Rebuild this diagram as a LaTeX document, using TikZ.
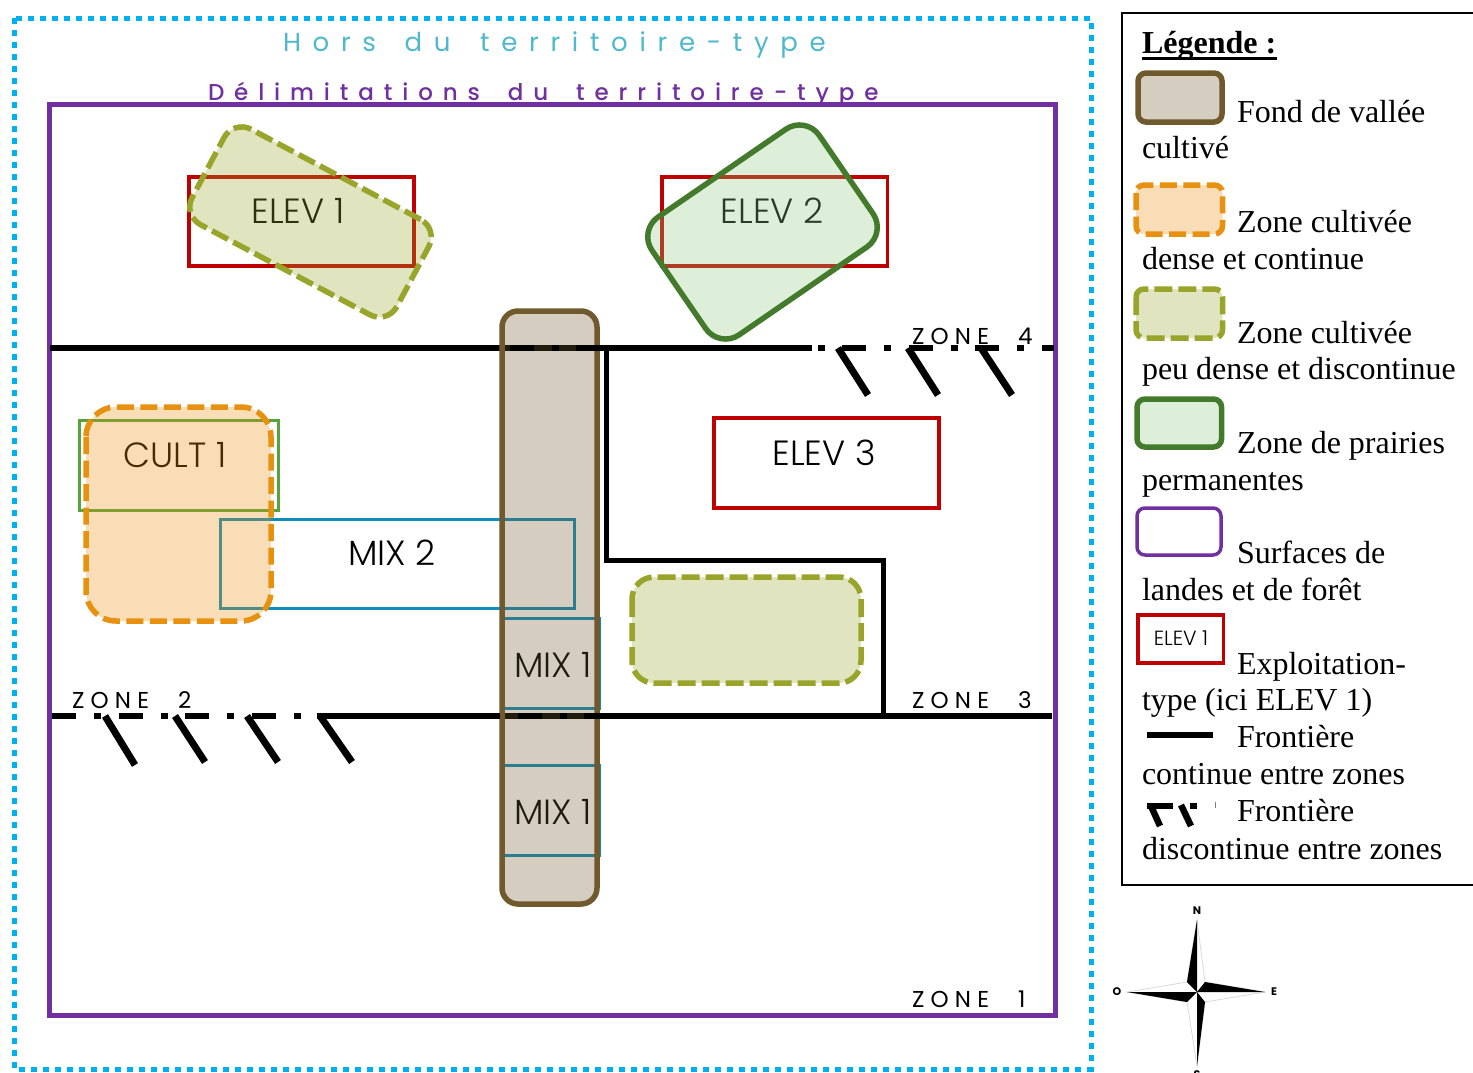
\documentclass[tikz,border=0pt]{standalone}
\usepackage{fontspec}
\setmainfont{Liberation Serif}
\newfontfamily\gothic[UprightFont={* Light},BoldFont={* Medium}]{Poppins}
\newfontfamily\gothicreg{Poppins}
\definecolor{skyc}{HTML}{00B0F0}
\definecolor{purp}{HTML}{7030A0}
\definecolor{brownc}{HTML}{705A2D}
\definecolor{orangec}{HTML}{E8900F}
\definecolor{olivec}{HTML}{98A42A}
\definecolor{greenc}{HTML}{437A2B}
\definecolor{greenfill}{HTML}{8ECA7D}
\definecolor{redc}{HTML}{C00000}
\definecolor{bluec}{HTML}{0E8DBA}
\definecolor{cultg}{HTML}{57A33E}
\definecolor{titlec}{HTML}{4DB8CE}
\tikzset{
  x=1pt,y=-1pt,
  every node/.style={inner sep=0pt,outer sep=0pt},
  valley/.style={draw=brownc,line width=5.5pt,fill=brownc,fill opacity=.3,rounded corners=16pt},
  orangezone/.style={draw=orangec,line width=5.5pt,fill=orangec,fill opacity=.3,dash pattern=on 17pt off 6.5pt},
  olivezone/.style={draw=olivec,line width=5.5pt,fill=olivec,fill opacity=.3,dash pattern=on 18pt off 6pt},
  greenzone/.style={draw=greenc,line width=5.5pt,fill=greenfill,fill opacity=.3},
  redbox/.style={draw=redc,line width=3.4pt},
  bluebox/.style={draw=bluec,line width=3pt},
  exlabel/.style={font=\gothic\fontsize{35}{38}\selectfont,anchor=center},
  zonelabel/.style={font=\gothicreg\fontsize{23}{26}\selectfont\addfontfeature{LetterSpace=27},anchor=base west},
  legtext/.style={font=\fontsize{32}{37}\selectfont,anchor=base west},
  border/.style={line width=6.5pt,black},
  borderdash/.style={line width=6.5pt,black,dash pattern=on 24pt off 18pt on 7pt off 17.5pt},
  tickmark/.style={line width=7pt,black},
  compasslabel/.style={font=\gothicreg\bfseries\fontsize{11}{12}\selectfont,anchor=center},
}
\begin{document}
\begin{tikzpicture}
\useasboundingbox (0,0) rectangle (1473,1072);
% frames
\draw[skyc,line width=5pt,dash pattern=on 6pt off 6pt] (14,18) rectangle (1091,1069);
\draw[purp,line width=5pt] (49,104) rectangle (1055,1015);
\node[font=\gothicreg\fontsize{26}{30}\selectfont\addfontfeature{LetterSpace=45},text=titlec,anchor=base west] (hors) at (283,51) {Hors\hspace{10pt} du\hspace{11pt} territoire-type};
\node[font=\gothic\bfseries\fontsize{23}{30}\selectfont\addfontfeature{LetterSpace=43},text=purp,anchor=base west] (delim) at (208,100) {Délimitations\hspace{12pt} du\hspace{12pt} territoire-type};
% borders under the zones
\coordinate (u0) at (50,348); \coordinate (u1) at (812,348); \coordinate (u2) at (1054,348);
\coordinate (l0) at (52,716); \coordinate (l1) at (317,716); \coordinate (l2) at (1052,716);
\coordinate (v0) at (606.5,348); \coordinate (v1) at (606.5,560); \coordinate (v2) at (883.5,560); \coordinate (v3) at (883.5,716);
\draw[border] (u0) -- (u1);
\draw[border] (l1) -- (l2);
\draw[line width=5pt,black] (v0) -- (v1) -- (v2) -- (v3);
% farm boxes and labels
\draw[redbox] (189,177) rectangle (414,266);
\draw[redbox] (662,177) rectangle (887.5,266);
\draw[redbox] (714,418) rectangle (939,508);
\draw[cultg,line width=3pt] (79,420) rectangle (278,510);
\draw[bluebox] (220,519) rectangle (574,608);
\draw[bluebox] (503,618) rectangle (599,708);
\draw[bluebox] (503,765) rectangle (599,855);
\node[exlabel] (elev1) at (298,211) {ELEV 1};
\node[exlabel] (elev2) at (772,211) {ELEV 2};
\node[exlabel] (elev3) at (824,453) {ELEV 3};
\node[exlabel] (cult1) at (175,455) {CULT 1};
\node[exlabel] (mix2) at (392,553) {MIX 2};
\node[exlabel] (mix1a) at (553,665) {MIX 1};
\node[exlabel] (mix1b) at (553,812) {MIX 1};
% zones
\node[olivezone,rounded corners=20pt,minimum width=232pt,minimum height=108pt,rotate=-28] (zoneA) at (310.5,222) {};
\node[greenzone,rounded corners=24pt,minimum width=203pt,minimum height=143pt,rotate=34.5] (zoneB) at (762.5,232) {};
\draw[orangezone,rounded corners=30pt] (86,407) rectangle (271,621);
\draw[olivezone,rounded corners=22pt] (632,577) rectangle (861,683);
\draw[valley] (502,311) rectangle (597,904);
% dashed parts of borders on top
\draw[borderdash,dash phase=6pt] (u0) -- (u2);
\draw[borderdash] (l0) -- (600,716);
\coordinate (t1a) at (838,348); \coordinate (t1b) at (868,395);
\coordinate (t2a) at (908,348); \coordinate (t2b) at (938,395);
\coordinate (t3a) at (981,348); \coordinate (t3b) at (1012,395);
\coordinate (t4a) at (105,716); \coordinate (t4b) at (135,765);
\coordinate (t5a) at (175,716); \coordinate (t5b) at (205,762);
\coordinate (t6a) at (247,716); \coordinate (t6b) at (278,762);
\coordinate (t7a) at (320,716); \coordinate (t7b) at (352,762);
\foreach \k in {1,...,7} {\draw[tickmark] (t\k a) -- (t\k b);}
\node[zonelabel] (z4) at (912,344) {ZONE\hspace{29pt}4};
\node[zonelabel] (z3) at (912,708) {ZONE\hspace{29pt}3};
\node[zonelabel] (z2) at (72,708) {ZONE\hspace{29pt}2};
\node[zonelabel] (z1) at (912,1007) {ZONE\hspace{29pt}1};
% legend
\coordinate (fa) at (1474,13); \coordinate (fb) at (1122,13); \coordinate (fc) at (1122,885); \coordinate (fd) at (1474,885);
\draw[black,line width=2pt] (fa) -- (fb) -- (fc) -- (fd);
\node[legtext,font=\bfseries\fontsize{32}{37}\selectfont] (lt0) at (1142,53) {Légende :};
\draw[black,line width=2.5pt] (1142,58.5) -- (1277,58.5);
\draw[valley,rounded corners=8pt] (1138,73) rectangle (1222,122);
\draw[orangezone,rounded corners=8pt] (1136,185) rectangle (1222.5,234);
\draw[olivezone,rounded corners=8pt] (1136,289) rectangle (1222.5,338);
\draw[greenzone,rounded corners=8pt] (1137,399) rectangle (1221.5,447);
\draw[purp,line width=3.5pt,rounded corners=8pt] (1137,508) rectangle (1221,555);
\draw[redbox] (1138,615) rectangle (1223.5,663);
\node[font=\gothic\fontsize{20.5}{22}\selectfont] (lelev) at (1181,638) {ELEV 1};
\node[legtext] (lt1) at (1237,122) {Fond de vallée};
\node[legtext] (lt2) at (1142,158) {cultivé};
\node[legtext] (lt3) at (1237,232) {Zone cultivée};
\node[legtext] (lt4) at (1142,269) {dense et continue};
\node[legtext] (lt5) at (1237,343) {Zone cultivée};
\node[legtext] (lt6) at (1142,379) {peu dense et discontinue};
\node[legtext] (lt7) at (1237,453) {Zone de prairies};
\node[legtext] (lt8) at (1142,490) {permanentes};
\node[legtext] (lt9) at (1237,563) {Surfaces de};
\node[legtext] (lt10) at (1142,600) {landes et de forêt};
\node[legtext] (lt11) at (1237,674) {Exploitation-};
\node[legtext] (lt12) at (1142,710) {type (ici ELEV 1)};
\node[legtext] (lt13) at (1237,747) {Frontière};
\node[legtext] (lt14) at (1142,784) {continue entre zones};
\node[legtext] (lt15) at (1237,821) {Frontière};
\node[legtext] (lt16) at (1142,859) {discontinue entre zones};
\draw[black,line width=5.5pt] (1147,735) -- (1213,735);
\draw[black,line width=6pt] (1147,806) -- (1173,806);
\draw[black,line width=6.5pt] (1151,806) -- (1160,826);
\draw[black,line width=6pt] (1190,806) -- (1197,806);
\draw[black,line width=6.5pt] (1181,805) -- (1191,826);
\draw[black!50,line width=1pt] (1215,802) -- (1215,808);
% compass
\coordinate (cc) at (1197,992);
\coordinate (cn) at (1197,920); \coordinate (ce) at (1265,992);
\coordinate (cs) at (1197,1066); \coordinate (cw) at (1127,992);
\coordinate (ne) at (1205,982); \coordinate (nw) at (1187,982);
\coordinate (se) at (1205,1002); \coordinate (sw) at (1187,1002);
\draw[black!15,line width=.8pt] (cn) -- (ne) -- (ce) -- (se) -- (cs) -- (sw) -- (cw) -- (nw) -- cycle;
\fill[black] (cn) -- (nw) -- (cc) -- cycle;
\fill[black] (ce) -- (ne) -- (cc) -- cycle;
\fill[black] (cs) -- (se) -- (cc) -- cycle;
\fill[black] (cw) -- (sw) -- (cc) -- cycle;
\node[compasslabel] (cN) at (1197,911) {N};
\node[compasslabel] (cO) at (1117,992) {O};
\node[compasslabel] (cE) at (1274,992) {E};
\node[compasslabel] (cS) at (1197,1075) {S};
\end{tikzpicture}
\end{document}
